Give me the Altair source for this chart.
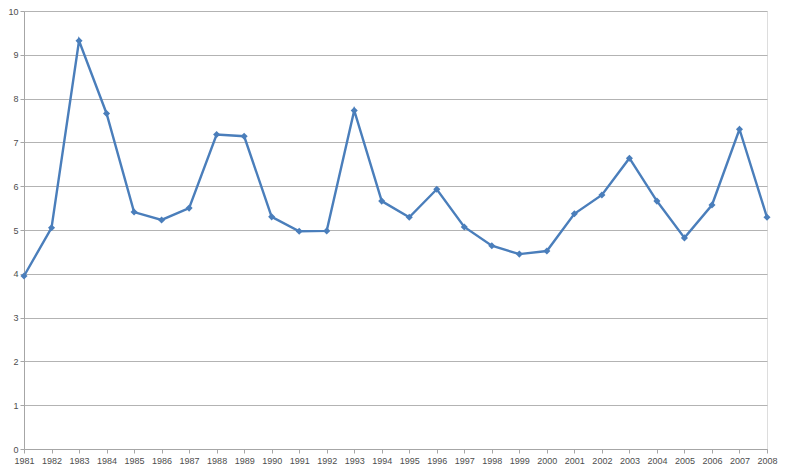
import altair as alt
import pandas as pd

years = list(range(1981, 2009))
values = [3.95, 5.05, 9.32, 7.66, 5.41, 5.23, 5.50, 7.18, 7.14, 5.30,
          4.97, 4.98, 7.73, 5.66, 5.29, 5.93, 5.07, 4.64, 4.45, 4.52,
          5.37, 5.80, 6.64, 5.66, 4.82, 5.57, 7.30, 5.29]
y_ticks = list(range(0, 11))

df = pd.DataFrame({"year": years, "value": values})

base = alt.Chart(df).encode(
    x=alt.X("year:Q", scale=alt.Scale(domain=[1981, 2008], nice=False, zero=False),
            axis=alt.Axis(values=years, format="d", title=None, grid=False,
                          labelFontSize=9, labelColor="#4d4d4d", labelFont="Liberation Sans",
                          domainColor="#a6a6a6", tickColor="#a6a6a6", tickSize=4,
                          labelPadding=3, labelOverlap=False, labelFlush=False)),
    y=alt.Y("value:Q", scale=alt.Scale(domain=[0, 10], nice=False),
            axis=alt.Axis(values=y_ticks, title=None, grid=True, gridColor="#b3b3b3",
                          gridWidth=1, labelFontSize=9, labelColor="#4d4d4d",
                          labelFont="Liberation Sans", domainColor="#a6a6a6",
                          tickColor="#a6a6a6", tickSize=4, labelPadding=2,
                          labelFlush=False)),
)

line = base.mark_line(color="#4a7ebb", strokeWidth=2.4)
pts = base.mark_point(shape="diamond", filled=True, color="#4a7ebb", size=50, opacity=1)

chart = (line + pts).properties(
    width=743, height=438,
    autosize=alt.AutoSizeParams(type="none"),
    padding={"left": 16, "top": 3, "right": 11, "bottom": 17},
).configure_view(stroke=None).configure(background="white")

chart.save("out.html", embed_options={"renderer": "svg", "actions": False})
